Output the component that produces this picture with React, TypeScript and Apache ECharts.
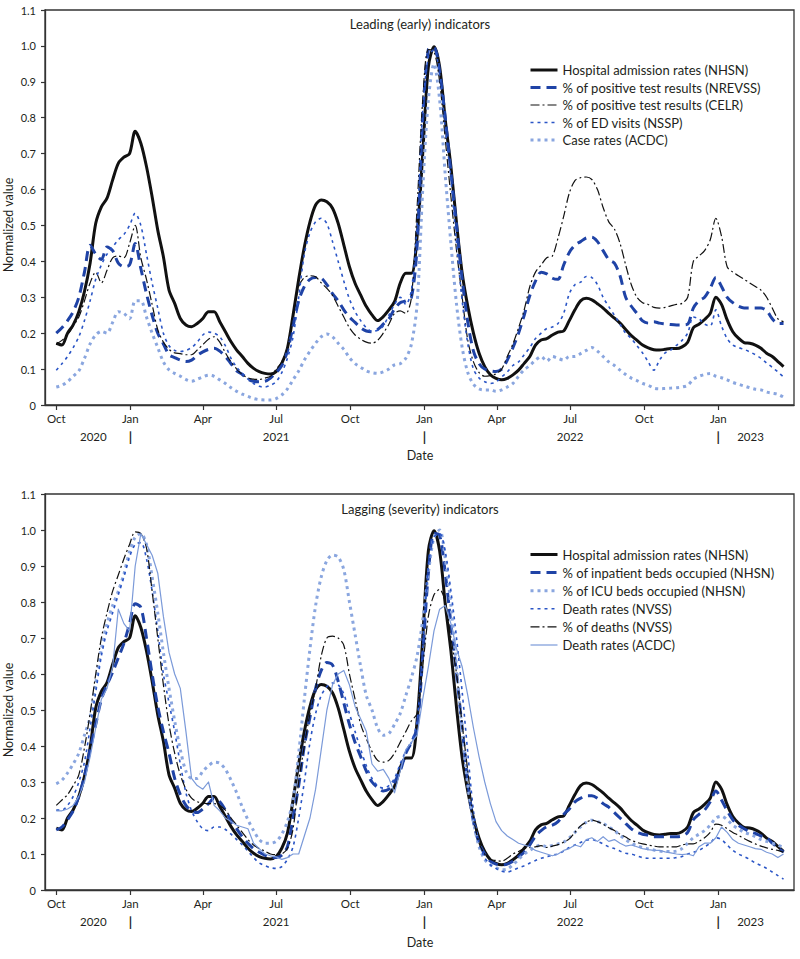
import React, { useEffect, useRef } from 'react';
import * as echarts from 'echarts';

// ---------- data (weekly, starting 2020-10-01, step 7 days) ----------
const START_DATE = '2020-10-01';
const AXIS_START = '2020-09-17';
const AXIS_END = '2023-04-05';
const LAST_TICK = '2023-01-01';

const hospAdmissions = [0.172,0.167,0.2,0.223,0.26,0.316,0.395,0.506,0.552,0.576,0.627,0.673,0.69,0.7,0.762,0.729,0.664,0.58,0.487,0.413,0.32,0.283,0.241,0.223,0.218,0.227,0.241,0.26,0.26,0.232,0.204,0.176,0.153,0.135,0.116,0.102,0.093,0.088,0.086,0.093,0.116,0.158,0.25,
  0.35,0.44,0.51,0.557,0.571,0.566,0.548,0.506,0.446,0.385,0.339,0.306,0.274,0.251,0.235,0.246,0.265,0.288,0.339,0.367,0.367,0.469,0.7,0.942,0.998,0.942,0.794,0.664,0.506,0.367,0.274,0.2,0.144,0.107,0.084,0.074,0.07,0.074,0.084,0.097,0.116,0.135,0.167,0.181,
  0.185,0.195,0.203,0.206,0.235,0.265,0.29,0.297,0.293,0.282,0.27,0.255,0.242,0.228,0.21,0.193,0.18,0.167,0.159,0.154,0.153,0.155,0.157,0.157,0.162,0.175,0.215,0.225,0.238,0.255,0.3,0.28,0.237,0.204,0.186,0.174,0.172,0.167,0.158,0.144,0.135,0.121,0.107];

const posNREVSS = [0.2,0.215,0.235,0.26,0.3,0.37,0.445,0.42,0.405,0.44,0.43,0.395,0.385,0.39,0.45,0.38,0.31,0.25,0.2,0.17,0.14,0.132,0.125,0.121,0.125,0.138,0.148,0.155,0.158,0.15,0.135,0.115,0.095,0.085,0.072,0.066,0.065,0.066,0.075,0.09,0.11,0.15,0.22,
  0.29,0.33,0.35,0.355,0.353,0.335,0.31,0.29,0.265,0.245,0.23,0.215,0.206,0.204,0.21,0.225,0.24,0.268,0.285,0.29,0.3,0.44,0.8,0.99,0.995,0.93,0.8,0.65,0.5,0.35,0.23,0.15,0.115,0.1,0.095,0.093,0.1,0.125,0.16,0.2,0.25,0.305,0.345,0.37,
  0.365,0.353,0.35,0.39,0.425,0.445,0.455,0.465,0.467,0.455,0.43,0.405,0.395,0.36,0.3,0.275,0.255,0.234,0.228,0.232,0.228,0.226,0.224,0.223,0.223,0.225,0.27,0.29,0.3,0.325,0.355,0.33,0.3,0.285,0.275,0.27,0.27,0.27,0.27,0.263,0.24,0.227,0.227];

const posCELR = [0.17,0.18,0.195,0.22,0.245,0.29,0.34,0.37,0.34,0.375,0.41,0.415,0.41,0.45,0.5,0.41,0.35,0.28,0.21,0.175,0.155,0.145,0.143,0.14,0.14,0.153,0.168,0.183,0.19,0.175,0.145,0.12,0.1,0.085,0.075,0.072,0.071,0.075,0.08,0.1,0.12,0.16,0.25,
  0.33,0.355,0.36,0.357,0.34,0.325,0.305,0.275,0.245,0.215,0.195,0.183,0.175,0.172,0.18,0.2,0.225,0.255,0.262,0.255,0.3,0.55,0.85,0.99,0.985,0.9,0.74,0.58,0.43,0.3,0.18,0.12,0.09,0.08,0.082,0.087,0.1,0.135,0.17,0.215,0.265,0.33,0.37,0.39,
  0.41,0.415,0.465,0.525,0.59,0.625,0.633,0.635,0.628,0.6,0.55,0.51,0.49,0.45,0.39,0.335,0.3,0.285,0.28,0.272,0.27,0.272,0.276,0.28,0.283,0.3,0.4,0.415,0.43,0.46,0.52,0.47,0.385,0.37,0.36,0.35,0.34,0.33,0.32,0.3,0.27,0.24,0.232];

const edVisits = [0.097,0.115,0.135,0.16,0.19,0.235,0.29,0.35,0.39,0.42,0.44,0.46,0.475,0.5,0.534,0.5,0.42,0.34,0.27,0.2,0.165,0.152,0.149,0.152,0.16,0.175,0.195,0.203,0.2,0.19,0.165,0.13,0.105,0.088,0.072,0.06,0.052,0.05,0.055,0.065,0.09,0.13,0.19,
  0.3,0.42,0.48,0.51,0.52,0.505,0.455,0.4,0.345,0.295,0.26,0.235,0.215,0.205,0.208,0.22,0.25,0.28,0.3,0.28,0.32,0.5,0.82,0.97,0.99,0.92,0.77,0.63,0.45,0.29,0.17,0.1,0.075,0.065,0.06,0.064,0.078,0.092,0.11,0.12,0.14,0.16,0.185,0.2,
  0.213,0.217,0.227,0.255,0.31,0.335,0.342,0.358,0.355,0.335,0.3,0.274,0.25,0.225,0.2,0.185,0.165,0.145,0.12,0.097,0.125,0.145,0.153,0.166,0.18,0.2,0.245,0.24,0.225,0.22,0.265,0.22,0.185,0.167,0.16,0.155,0.148,0.14,0.13,0.117,0.105,0.092,0.078];

const caseRates = [0.05,0.055,0.065,0.08,0.095,0.13,0.17,0.195,0.205,0.2,0.23,0.26,0.255,0.24,0.29,0.29,0.245,0.2,0.16,0.12,0.098,0.088,0.08,0.071,0.066,0.072,0.078,0.083,0.08,0.07,0.06,0.048,0.038,0.03,0.024,0.018,0.015,0.014,0.014,0.018,0.028,0.045,0.07,
  0.095,0.125,0.15,0.172,0.19,0.198,0.19,0.172,0.155,0.132,0.115,0.105,0.095,0.09,0.088,0.092,0.1,0.112,0.115,0.13,0.17,0.28,0.6,0.85,0.95,0.85,0.64,0.45,0.28,0.16,0.09,0.058,0.045,0.042,0.042,0.038,0.042,0.05,0.06,0.08,0.098,0.11,0.125,0.135,
  0.122,0.135,0.13,0.125,0.135,0.135,0.143,0.152,0.16,0.15,0.135,0.12,0.11,0.097,0.085,0.075,0.068,0.06,0.055,0.047,0.045,0.046,0.047,0.048,0.05,0.055,0.072,0.08,0.085,0.088,0.08,0.076,0.07,0.063,0.058,0.053,0.048,0.044,0.042,0.036,0.033,0.03,0.022];

const inpatientBeds = [0.167,0.175,0.195,0.22,0.26,0.315,0.39,0.46,0.53,0.57,0.605,0.645,0.685,0.74,0.795,0.785,0.7,0.6,0.51,0.44,0.38,0.31,0.265,0.235,0.22,0.215,0.225,0.24,0.255,0.245,0.222,0.192,0.17,0.148,0.13,0.115,0.105,0.097,0.092,0.09,0.097,0.12,0.2,
  0.29,0.4,0.48,0.56,0.61,0.632,0.625,0.58,0.52,0.46,0.41,0.37,0.33,0.3,0.285,0.275,0.28,0.3,0.33,0.38,0.41,0.45,0.65,0.88,0.99,0.985,0.88,0.74,0.6,0.45,0.3,0.19,0.13,0.1,0.08,0.072,0.07,0.072,0.08,0.092,0.105,0.125,0.15,0.165,
  0.176,0.18,0.19,0.21,0.225,0.245,0.255,0.262,0.262,0.255,0.24,0.23,0.215,0.2,0.185,0.17,0.16,0.155,0.152,0.148,0.148,0.148,0.148,0.148,0.15,0.16,0.195,0.21,0.222,0.245,0.275,0.25,0.22,0.195,0.18,0.17,0.162,0.157,0.15,0.145,0.13,0.118,0.105];

const icuBeds = [0.295,0.305,0.325,0.35,0.38,0.43,0.48,0.575,0.67,0.74,0.79,0.83,0.878,0.94,0.98,0.99,0.96,0.87,0.77,0.66,0.56,0.47,0.39,0.33,0.31,0.31,0.33,0.345,0.355,0.352,0.335,0.305,0.27,0.23,0.195,0.165,0.14,0.13,0.13,0.135,0.155,0.19,0.25,
  0.38,0.53,0.67,0.79,0.87,0.915,0.93,0.925,0.89,0.8,0.71,0.62,0.54,0.5,0.45,0.43,0.435,0.46,0.49,0.54,0.59,0.65,0.75,0.88,0.98,1.0,0.92,0.79,0.62,0.44,0.29,0.19,0.12,0.085,0.07,0.062,0.056,0.058,0.07,0.085,0.1,0.11,0.12,0.125,
  0.12,0.124,0.128,0.133,0.145,0.16,0.175,0.188,0.194,0.19,0.185,0.175,0.165,0.152,0.14,0.13,0.123,0.118,0.114,0.111,0.108,0.107,0.107,0.108,0.115,0.13,0.145,0.155,0.165,0.18,0.2,0.205,0.195,0.18,0.17,0.16,0.155,0.148,0.14,0.135,0.13,0.125,0.118];

const deathRatesNVSS = [0.222,0.222,0.235,0.26,0.3,0.355,0.45,0.55,0.65,0.72,0.77,0.82,0.87,0.925,0.96,0.965,0.92,0.83,0.72,0.6,0.52,0.44,0.35,0.27,0.22,0.19,0.17,0.165,0.175,0.175,0.168,0.155,0.14,0.125,0.108,0.09,0.075,0.068,0.062,0.06,0.065,0.085,0.12,
  0.2,0.3,0.41,0.49,0.54,0.565,0.575,0.57,0.545,0.49,0.44,0.39,0.345,0.31,0.29,0.283,0.29,0.31,0.35,0.385,0.41,0.47,0.67,0.9,0.98,0.99,0.94,0.83,0.7,0.55,0.38,0.22,0.13,0.09,0.07,0.06,0.052,0.05,0.055,0.062,0.067,0.075,0.082,0.088,
  0.092,0.097,0.1,0.108,0.118,0.125,0.132,0.138,0.14,0.135,0.128,0.12,0.115,0.108,0.102,0.1,0.095,0.09,0.088,0.088,0.088,0.088,0.088,0.09,0.093,0.1,0.105,0.11,0.12,0.13,0.145,0.14,0.125,0.11,0.1,0.093,0.085,0.075,0.068,0.06,0.05,0.04,0.03];

const pctDeathsNVSS = [0.235,0.25,0.265,0.29,0.32,0.395,0.49,0.6,0.7,0.77,0.83,0.875,0.92,0.96,0.995,0.99,0.95,0.83,0.7,0.57,0.46,0.38,0.32,0.28,0.255,0.245,0.242,0.24,0.24,0.235,0.222,0.2,0.18,0.16,0.14,0.125,0.115,0.108,0.1,0.098,0.1,0.115,0.17,
  0.3,0.4,0.49,0.56,0.65,0.7,0.705,0.7,0.68,0.6,0.53,0.46,0.42,0.385,0.36,0.355,0.36,0.38,0.41,0.44,0.47,0.49,0.62,0.76,0.82,0.835,0.8,0.7,0.6,0.46,0.33,0.2,0.13,0.1,0.085,0.082,0.08,0.088,0.1,0.107,0.115,0.118,0.12,0.123,
  0.118,0.122,0.126,0.133,0.142,0.16,0.178,0.188,0.194,0.19,0.183,0.173,0.165,0.155,0.147,0.138,0.132,0.128,0.125,0.122,0.12,0.12,0.12,0.12,0.125,0.128,0.128,0.135,0.145,0.16,0.183,0.18,0.17,0.16,0.152,0.143,0.135,0.128,0.122,0.117,0.113,0.11,0.105];

const deathRatesACDC = [0.22,0.22,0.225,0.235,0.26,0.3,0.37,0.45,0.53,0.56,0.62,0.78,0.74,0.72,0.9,0.99,0.96,0.93,0.88,0.76,0.66,0.6,0.56,0.44,0.31,0.29,0.28,0.3,0.235,0.22,0.2,0.19,0.18,0.175,0.17,0.13,0.115,0.1,0.095,0.092,0.085,0.09,0.1,
  0.1,0.15,0.2,0.28,0.39,0.5,0.57,0.6,0.61,0.57,0.51,0.475,0.44,0.35,0.33,0.335,0.31,0.27,0.33,0.39,0.41,0.43,0.53,0.62,0.72,0.78,0.79,0.74,0.67,0.62,0.54,0.45,0.37,0.3,0.24,0.19,0.165,0.15,0.14,0.13,0.125,0.12,0.11,0.105,
  0.1,0.095,0.1,0.11,0.115,0.125,0.12,0.14,0.145,0.135,0.148,0.135,0.14,0.13,0.122,0.125,0.12,0.115,0.112,0.11,0.11,0.106,0.103,0.1,0.098,0.1,0.095,0.12,0.13,0.13,0.145,0.175,0.16,0.14,0.13,0.125,0.12,0.115,0.113,0.105,0.1,0.09,0.1];

const quarterNames: Record<string, string> = { '01': 'Jan', '04': 'Apr', '07': 'Jul', '10': 'Oct' };
const yearMarks: Record<string, string> = {
  '2020-11-16': '2020', '2021-01-01': '|', '2021-07-01': '2021',
  '2022-01-01': '|', '2022-07-01': '2022', '2023-01-01': '|', '2023-02-10': '2023',
};
const yTickValues = [0, 0.1, 0.2, 0.3, 0.4, 0.5, 0.6, 0.7, 0.8, 0.9, 1.0, 1.1];

// ---------- helpers ----------
const DAY = 86400000;
const fmt = (t: number) => new Date(t).toISOString().slice(0, 10);
const parse = (s: string) => Date.parse(s + 'T00:00:00Z');

const days: string[] = [];
for (let t = parse(AXIS_START); t <= parse(AXIS_END); t += DAY) days.push(fmt(t));
const weekDates = hospAdmissions.map((_, i) => fmt(parse(START_DATE) + i * 7 * DAY));

const FONT = 'Lato';
const TXT = '#231f20';
const BLACK = '#111111';
const DARKBLUE = '#1f43a6';
const MIDBLUE = '#2a55c6';
const LIGHTBLUE = '#8aa6df';
const LIGHTLINE = '#7b9ad9';
const CLEAR = 'rgba(0,0,0,0)';

const STY: Record<string, { color: string; width: number; type: any; smooth?: number }> = {
  hosp: { color: BLACK, width: 3, type: 'solid' },
  thickDash: { color: DARKBLUE, width: 3, type: [10, 6] },
  dashDot: { color: BLACK, width: 1.2, type: [9, 3, 2, 3] },
  thinDot: { color: MIDBLUE, width: 1.6, type: [3, 4] },
  thickDot: { color: LIGHTBLUE, width: 3, type: [3, 4] },
  thinLine: { color: LIGHTLINE, width: 1.2, type: 'solid', smooth: 0 },
};

const isQuarter = (_: number, v: string) => {
  const [, m, d] = v.split('-');
  return d === '01' && !!quarterNames[m] && v <= LAST_TICK;
};

function App() {
  const ref = useRef<HTMLDivElement>(null);
  useEffect(() => {
    if (!ref.current) return;
    const chart = echarts.init(ref.current, null, { renderer: 'svg' });

    const grids = [
      { left: 45, top: 10, width: 749, height: 395 },
      { left: 45, top: 494, width: 749, height: 396 },
    ].map((g) => ({ ...g, show: true, borderColor: '#333', borderWidth: 1.3, containLabel: false }));

    const xAxes: any[] = [];
    const yAxes: any[] = [];
    [0, 1].forEach((g) => {
      xAxes.push({
        type: 'category', gridIndex: g, data: days, boundaryGap: false,
        axisLine: { show: true, lineStyle: { color: '#333', width: 1.3 } },
        axisTick: { show: true, interval: isQuarter, length: 5, lineStyle: { color: '#333', width: 1.2 } },
        axisLabel: {
          interval: isQuarter, margin: 7, fontFamily: FONT, fontSize: 11.5, color: TXT,
          formatter: (v: string) => quarterNames[v.split('-')[1]] || '',
        },
        splitLine: { show: false },
      });
      xAxes.push({
        type: 'category', gridIndex: g, data: days, boundaryGap: false, position: 'bottom',
        axisLine: { show: false }, axisTick: { show: false }, splitLine: { show: false },
        axisLabel: {
          interval: (_: number, v: string) => !!yearMarks[v], margin: 25,
          fontFamily: FONT, fontSize: 11.5, color: TXT,
          formatter: (v: string) => (yearMarks[v] === '|' ? '{bar||}' : yearMarks[v] || ''),
          rich: { bar: { fontFamily: FONT, fontSize: 13, fontWeight: 'bold', color: '#222' } },
        },
      });
      yAxes.push({
        type: 'value', gridIndex: g, min: 0, max: 1.1, interval: 0.1,
        axisLine: { show: true, lineStyle: { color: '#333', width: 1.3 } },
        axisTick: { show: true, length: 4, lineStyle: { color: '#333', width: 1.2 } },
        axisLabel: {
          margin: 9, fontFamily: FONT, fontSize: 11, color: TXT,
          formatter: (v: number) => {
            const hit = yTickValues.find((t) => Math.abs(t - v) < 1e-6);
            const val = hit === undefined ? v : hit;
            return val === 0 ? '0' : val.toFixed(1);
          },
        },
        splitLine: { show: false },
      });
    });

    const mk = (name: string, values: number[], g: number, s: string) => ({
      type: 'line', name, xAxisIndex: g * 2, yAxisIndex: g,
      data: values.map((v, i) => [weekDates[i], v]),
      symbol: 'rect', symbolSize: 0, showSymbol: false,
      smooth: STY[s].smooth === undefined ? 0.3 : STY[s].smooth,
      lineStyle: { color: STY[s].color, width: STY[s].width, type: STY[s].type, cap: 'butt', join: 'round' },
      itemStyle: { color: CLEAR, borderWidth: 0 },
      emphasis: { disabled: true },
    });

    const topItems: [string, number[], string][] = [
      ['Hospital admission rates (NHSN)', hospAdmissions, 'hosp'],
      ['% of positive test results (NREVSS)', posNREVSS, 'thickDash'],
      ['% of positive test results (CELR)', posCELR, 'dashDot'],
      ['% of ED visits (NSSP)', edVisits, 'thinDot'],
      ['Case rates (ACDC)', caseRates, 'thickDot'],
    ];
    const bottomItems: [string, number[], string][] = [
      ['Hospital admission rates (NHSN)', hospAdmissions, 'hosp'],
      ['% of inpatient beds occupied (NHSN)', inpatientBeds, 'thickDash'],
      ['% of ICU beds occupied (NHSN)', icuBeds, 'thickDot'],
      ['Death rates (NVSS)', deathRatesNVSS, 'thinDot'],
      ['% of deaths (NVSS)', pctDeathsNVSS, 'dashDot'],
      ['Death rates (ACDC)', deathRatesACDC, 'thinLine'],
    ];

    const series = [
      ...topItems.map(([n, v, s]) => mk(n, v, 0, s)),
      ...bottomItems.map(([n, v, s]) => mk(n, v, 1, s)),
    ];

    const legendData = (items: [string, number[], string][]) =>
      items.map(([n, , s]) => ({
        name: n,
        itemStyle: { color: CLEAR, borderWidth: 0 },
        lineStyle: { color: STY[s].color, width: STY[s].width, type: STY[s].type, cap: 'butt' },
      }));

    const legendBase = {
      orient: 'vertical', left: 524, padding: 5, itemWidth: 27, itemHeight: 12,
      selectedMode: false,
      itemStyle: { color: CLEAR, borderWidth: 0 },
      textStyle: { fontFamily: FONT, fontSize: 13, color: TXT },
    };

    const txt = (text: string, x: number, y: number, size: number, rot = 0) => ({
      type: 'text', x, y, rotation: rot,
      style: { text, fontFamily: FONT, fontSize: size, fill: TXT, align: 'center', verticalAlign: 'middle' },
    });

    chart.setOption({
      animation: false,
      backgroundColor: '#ffffff',
      grid: grids,
      xAxis: xAxes,
      yAxis: yAxes,
      legend: [
        { ...legendBase, top: 58.5, itemGap: 4.5, data: legendData(topItems) },
        { ...legendBase, top: 543, itemGap: 5.1, data: legendData(bottomItems) },
      ],
      graphic: [
        txt('Leading (early) indicators', 420, 24, 13),
        txt('Lagging (severity) indicators', 420, 509, 13),
        txt('Date', 420, 455, 12.5),
        txt('Date', 420, 942, 12.5),
        txt('Normalized value', 8, 225, 12.5, Math.PI / 2),
        txt('Normalized value', 8, 710, 12.5, Math.PI / 2),
      ],
      series,
    });
    return () => chart.dispose();
  }, []);
  return <div ref={ref} style={{ position: 'fixed', left: 0, top: 0, width: 800, height: 959, background: '#fff' }} />;
}

export default App;
